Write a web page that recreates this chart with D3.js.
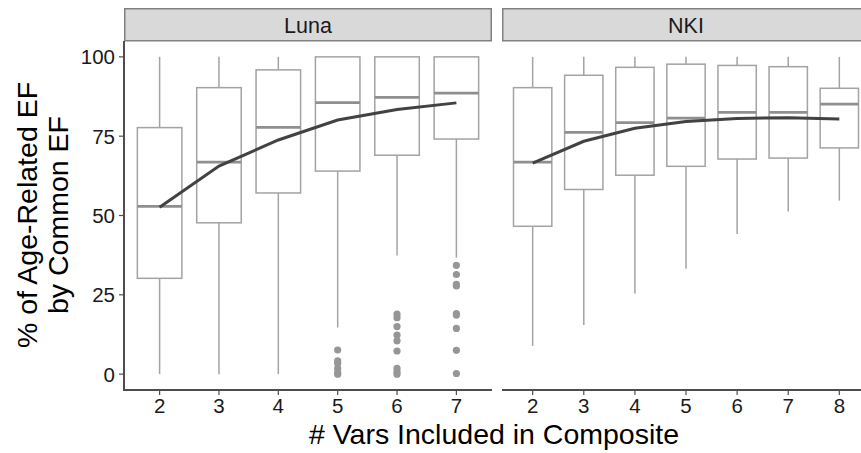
<!DOCTYPE html>
<html>
<head>
<meta charset="utf-8">
<script src="https://d3js.org/d3.v7.min.js"></script>
<style>
  body { margin: 0; background: #fff; }
  svg text { font-family: "Liberation Sans", Arial, Helvetica, sans-serif; }
</style>
</head>
<body>
<svg id="chart" width="861" height="453"></svg>
<script>
// ---- data ----
const panelNames = ["Luna", "NKI"];

const lunaVars = [2, 3, 4, 5, 6, 7];
const lunaLow  = [0, 0, 0, 14.7, 37.4, 36.7];
const lunaQ1   = [30.2, 47.7, 57.1, 64.0, 69.0, 74.1];
const lunaMed  = [52.9, 66.8, 77.8, 85.6, 87.2, 88.6];
const lunaQ3   = [77.7, 90.3, 95.9, 100, 100, 100];
const lunaHigh = [100, 100, 100, 100, 100, 100];
const lunaMean = [52.6, 65.6, 73.8, 80.1, 83.4, 85.5];
const lunaOutliers = [
  [5, 7.6], [5, 4.2], [5, 3.4], [5, 1.8], [5, 0.5], [5, 0],
  [6, 18.9], [6, 17.8], [6, 15.0], [6, 12.3], [6, 10.5], [6, 7.3], [6, 1.8], [6, 0.7], [6, 0],
  [7, 34.3], [7, 31.4], [7, 28.3], [7, 27.8], [7, 19.1], [7, 18.6], [7, 14.4], [7, 7.5], [7, 0.2]
];

const nkiVars = [2, 3, 4, 5, 6, 7, 8];
const nkiLow  = [8.9, 15.5, 25.4, 33.2, 44.2, 51.3, 54.7];
const nkiQ1   = [46.6, 58.2, 62.7, 65.5, 67.8, 68.1, 71.3];
const nkiMed  = [66.8, 76.2, 79.3, 80.7, 82.5, 82.5, 85.1];
const nkiQ3   = [90.3, 94.2, 96.7, 97.7, 97.3, 96.9, 90.1];
const nkiHigh = [100, 100, 100, 100, 100, 100, 100];
const nkiMean = [66.5, 73.4, 77.5, 79.6, 80.6, 80.8, 80.4];
const nkiOutliers = [];

const yTicks = [0, 25, 50, 75, 100];

// ---- layout ----
const svg = d3.select("#chart");
const plotTop = 41, plotBottom = 390;
const panelW = 368;
const panelX = [124, 502];

const y = d3.scaleLinear().domain([-5, 105]).range([plotBottom, plotTop]);

const panels = [
  { name: panelNames[0], vars: lunaVars, low: lunaLow, q1: lunaQ1, med: lunaMed, q3: lunaQ3, high: lunaHigh, mean: lunaMean, out: lunaOutliers },
  { name: panelNames[1], vars: nkiVars, low: nkiLow, q1: nkiQ1, med: nkiMed, q3: nkiQ3, high: nkiHigh, mean: nkiMean, out: nkiOutliers }
];

panels.forEach(function(p, i) {
  const x0 = panelX[i];
  // discrete x like ggplot: 0.6 of a step padding on each side
  const x = d3.scalePoint()
    .domain(p.vars)
    .range([x0, x0 + panelW])
    .padding(0.6);
  const bw = 0.75 * x.step();

  const g = svg.append("g");

  // strip
  g.append("rect")
    .attr("x", x0 + 0.75).attr("y", 8.75)
    .attr("width", panelW - 1.5).attr("height", 32)
    .attr("fill", "#d9d9d9").attr("stroke", "#808080").attr("stroke-width", 1.5);
  g.append("text")
    .attr("x", x0 + panelW / 2).attr("y", 25)
    .attr("dy", "0.36em")
    .attr("text-anchor", "middle")
    .attr("font-size", 21.5).attr("fill", "#1a1a1a")
    .text(p.name);

  // boxes
  p.vars.forEach(function(v, j) {
    const c = x(v);
    g.append("line").attr("x1", c).attr("x2", c)
      .attr("y1", y(p.high[j])).attr("y2", y(p.q3[j]))
      .attr("stroke", "#a3a3a3").attr("stroke-width", 1.5);
    g.append("line").attr("x1", c).attr("x2", c)
      .attr("y1", y(p.q1[j])).attr("y2", y(p.low[j]))
      .attr("stroke", "#a3a3a3").attr("stroke-width", 1.5);
    g.append("rect")
      .attr("x", c - bw / 2).attr("y", y(p.q3[j]))
      .attr("width", bw).attr("height", y(p.q1[j]) - y(p.q3[j]))
      .attr("fill", "#fff").attr("stroke", "#a3a3a3").attr("stroke-width", 1.5);
    g.append("line")
      .attr("x1", c - bw / 2).attr("x2", c + bw / 2)
      .attr("y1", y(p.med[j])).attr("y2", y(p.med[j]))
      .attr("stroke", "#8f8f8f").attr("stroke-width", 2.8);
  });

  // outliers
  g.selectAll("circle.out")
    .data(p.out)
    .enter().append("circle")
    .attr("class", "out")
    .attr("cx", d => x(d[0]))
    .attr("cy", d => y(d[1]))
    .attr("r", 3.6)
    .attr("fill", "#969696");

  // mean line
  const line = d3.line()
    .x((d, j) => x(p.vars[j]))
    .y(d => y(d));
  g.append("path")
    .datum(p.mean)
    .attr("d", line)
    .attr("fill", "none")
    .attr("stroke", "#424242")
    .attr("stroke-width", 3);

  // x axis
  g.append("line")
    .attr("x1", x0).attr("x2", x0 + panelW)
    .attr("y1", plotBottom).attr("y2", plotBottom)
    .attr("stroke", "#4d4d4d").attr("stroke-width", 2);
  p.vars.forEach(function(v) {
    g.append("line")
      .attr("x1", x(v)).attr("x2", x(v))
      .attr("y1", plotBottom).attr("y2", plotBottom + 5)
      .attr("stroke", "#4d4d4d").attr("stroke-width", 1.2);
    g.append("text")
      .attr("x", x(v)).attr("y", 413)
      .attr("text-anchor", "middle")
      .attr("font-size", 20.5).attr("fill", "#1a1a1a")
      .text(v);
  });

  // y axis on first panel only
  if (i === 0) {
    g.append("line")
      .attr("x1", x0).attr("x2", x0)
      .attr("y1", plotTop).attr("y2", plotBottom + 1)
      .attr("stroke", "#4d4d4d").attr("stroke-width", 2);
    yTicks.forEach(function(t) {
      g.append("line")
        .attr("x1", x0 - 5).attr("x2", x0)
        .attr("y1", y(t)).attr("y2", y(t))
        .attr("stroke", "#4d4d4d").attr("stroke-width", 1.2);
      g.append("text")
        .attr("x", x0 - 9).attr("y", y(t))
        .attr("dy", "0.36em")
        .attr("text-anchor", "end")
        .attr("font-size", 20.5).attr("fill", "#1a1a1a")
        .text(t);
    });
  }
});

// axis titles
svg.append("text")
  .attr("x", 494).attr("y", 444)
  .attr("text-anchor", "middle")
  .attr("font-size", 28.5).attr("fill", "#000")
  .text("# Vars Included in Composite");

const yTitle = svg.append("text")
  .attr("transform", "translate(0,215) rotate(-90)")
  .attr("text-anchor", "middle")
  .attr("font-size", 28.5).attr("fill", "#000");
yTitle.append("tspan").attr("x", 0).attr("y", 37).text("% of Age-Related EF");
yTitle.append("tspan").attr("x", 0).attr("y", 68).text("by Common EF");
</script>
</body>
</html>
